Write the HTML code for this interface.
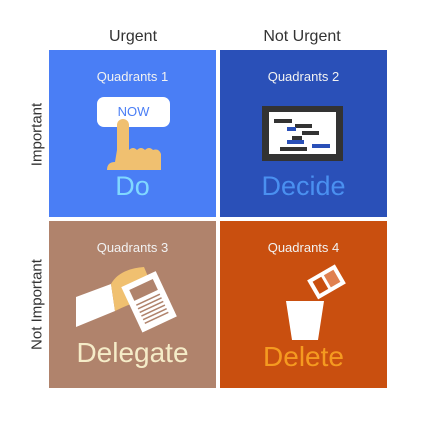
<!DOCTYPE html>
<html><head><style>
body{margin:0;width:446px;height:431px;background:#fff;position:relative;font-family:"Liberation Sans","DejaVu Sans",sans-serif;overflow:hidden}
.q{position:absolute;width:167px;height:167px}
.t{position:absolute;width:100%;text-align:center;color:#f2f2f2;font-size:13px}
.b{position:absolute;width:100%;text-align:center;font-size:27px}
.h{position:absolute;font-size:16px;color:#333;text-align:center}
.v{position:absolute;font-size:15px;color:#333;transform:rotate(-90deg);white-space:nowrap;text-align:center}
</style></head><body>
<div class="h" style="left:83px;top:28px;width:100px">Urgent</div>
<div class="h" style="left:242px;top:28px;width:120px">Not Urgent</div>
<div class="v" style="left:-13px;top:126px;width:100px">Important</div>
<div class="v" style="left:-23px;top:296px;width:120px">Not Important</div>

<div class="q" style="left:49px;top:50px;background:#4a7ef5">
<div class="t" style="top:19px">Quadrants 1</div>
<div style="position:absolute;left:48px;top:47px;width:73px;height:30px;background:#fff;border-radius:7px;color:#4a7ef5;font-size:13px;text-align:center;line-height:30px">NOW</div>
<svg style="position:absolute;left:0;top:0" width="167" height="167">
<rect x="68" y="69" width="12" height="40" rx="6" fill="#f0c070"/>
<path d="M58 120 Q58 112 66 112 L68 100 L80 100 Q84 96 88 100 Q92 96 96 100 Q100 96 104 100 Q110 98 112 104 L112 120 Z" fill="#f0c070"/>
</svg>
<div class="b" style="top:121px;color:#80d8ff">Do</div>
</div>

<div class="q" style="left:220px;top:50px;background:#2a50b8">
<div class="t" style="top:19px">Quadrants 2</div>
<svg style="position:absolute;left:0;top:0" width="167" height="167">
<rect x="42" y="56" width="81" height="55" fill="#333"/>
<rect x="49" y="62" width="67" height="42" fill="#fff"/>
<rect x="54" y="69" width="18" height="4" fill="#333"/><rect x="75" y="74" width="17" height="4" fill="#333"/>
<rect x="67" y="77" width="9" height="4" fill="#2a50b8"/><rect x="82" y="81" width="17" height="4" fill="#333"/>
<rect x="72" y="86" width="10" height="4" fill="#333"/><rect x="67" y="90" width="17" height="4" fill="#2a50b8"/>
<rect x="92" y="94" width="18" height="4" fill="#2a50b8"/><rect x="60" y="97" width="27" height="4" fill="#333"/>
</svg>
<div class="b" style="top:121px;color:#4a90f0">Decide</div>
</div>

<div class="q" style="left:49px;top:221px;background:#b0836c">
<div class="t" style="top:19px">Quadrants 3</div>
<svg style="position:absolute;left:0;top:0" width="167" height="167">
<g transform="translate(0,28)">
<path d="M27 48 L62 35 L66 62 L27 78 Z" fill="#fff"/>
<path d="M62 35 Q70 20 95 18 L100 30 L96 50 Q80 55 66 62 Z" fill="#f0c070"/>
<g transform="rotate(-25 100 55)"><rect x="82" y="28" width="38" height="50" fill="#fff"/><rect x="88" y="34" width="26" height="12" fill="#b0836c"/>
<g fill="#b0836c"><rect x="88" y="50" width="26" height="1.5"/><rect x="88" y="54" width="26" height="1.5"/><rect x="88" y="58" width="26" height="1.5"/><rect x="88" y="62" width="26" height="1.5"/><rect x="88" y="66" width="26" height="1.5"/><rect x="88" y="70" width="26" height="1.5"/></g></g>
</g>
</svg>
<div class="b" style="top:116px;color:#f5ecc8;font-size:28px">Delegate</div>
</div>

<div class="q" style="left:220px;top:221px;background:#c94f0f">
<div class="t" style="top:19px">Quadrants 4</div>
<svg style="position:absolute;left:0;top:0" width="167" height="167">
<g transform="rotate(-30 106 60)"><rect x="90" y="50" width="32" height="22" fill="#fff"/><rect x="94" y="54" width="10" height="14" fill="#c94f0f"/><rect x="107" y="54" width="11" height="14" fill="#e08050"/></g>
<path d="M66 80 L104 80 L98 119 L72 119 Z" fill="#fff"/>
</svg>
<div class="b" style="top:120px;color:#f59a20;font-size:28px">Delete</div>
</div>
</body></html>
